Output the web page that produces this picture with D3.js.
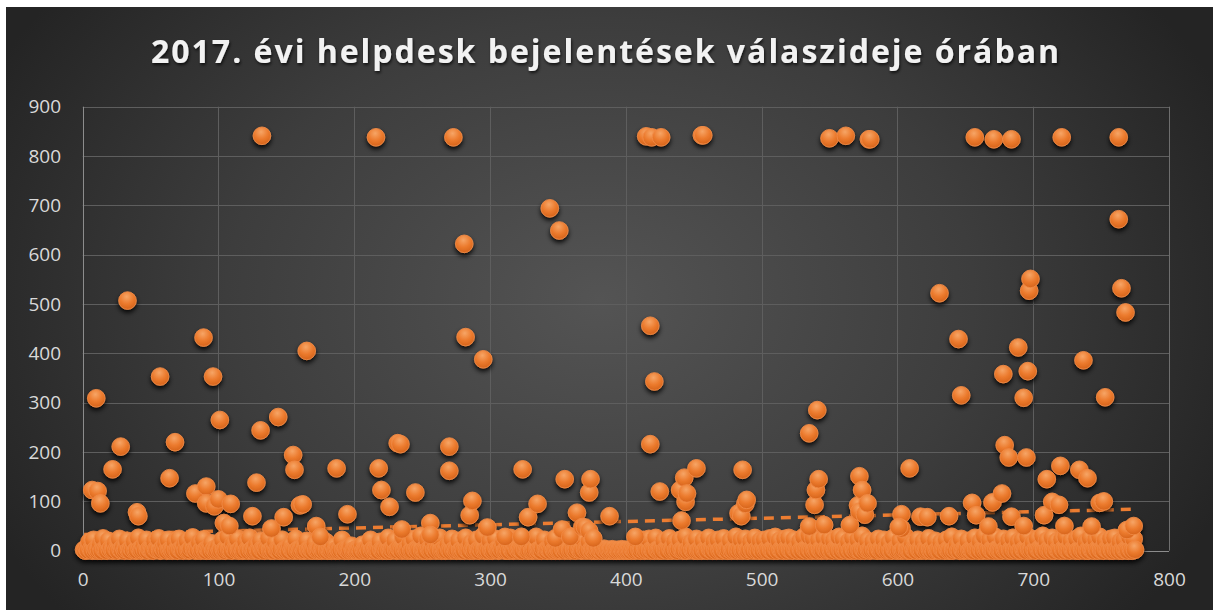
<!DOCTYPE html>
<html>
<head>
<meta charset="utf-8">
<script src="https://cdn.jsdelivr.net/npm/d3@7"></script>
<style>
  html, body { margin: 0; padding: 0; background: #ffffff; }
  svg { display: block; }
</style>
</head>
<body>
<svg id="chart" width="1213" height="610"></svg>
<script>
// ---------------- DATA ----------------
const titleText = "2017. évi helpdesk bejelentések válaszideje órában";
const xTicks = [0, 100, 200, 300, 400, 500, 600, 700, 800];
const yTicks = [0, 100, 200, 300, 400, 500, 600, 700, 800, 900];

// response time (hours) of the bulk of tickets, ticket no. 1..775
const lowValues = [
  2,0,5,1,18,3,0,22,1,4,0,2,12,0,25,3,1,0,20,2,6,0,1,15,3,
  0,24,2,1,8,0,3,20,1,0,5,2,18,0,1,26,3,0,2,10,1,22,0,4,2,
  1,0,19,3,2,25,0,1,6,2,14,0,22,1,3,0,2,18,1,0,24,3,2,0,12,
  2,20,0,1,5,27,2,0,3,1,16,0,2,23,1,0,4,2,0,15,1,3,0,2,8,
  0,2,22,1,0,3,28,1,2,0,14,3,1,24,0,2,5,0,1,18,2,0,26,1,3,
  0,2,12,1,0,20,3,1,0,5,2,25,0,1,3,0,16,2,1,0,4,22,0,2,1,
  3,0,10,2,1,0,24,1,3,0,2,6,0,1,20,2,0,3,1,0,14,2,0,1,5,
  0,2,1,18,0,3,1,0,2,8,0,1,3,0,2,22,1,0,4,1,0,2,10,0,1,
  2,0,1,3,0,12,1,0,2,5,0,22,1,3,0,2,1,0,18,2,0,1,4,0,26,
  1,0,3,2,20,0,1,5,2,0,28,1,3,0,2,14,0,1,24,2,0,3,1,30,0,
  2,1,0,22,3,0,1,18,2,0,5,1,26,0,2,3,0,1,12,2,0,24,1,3,0,
  2,20,0,1,3,0,26,2,1,0,15,3,0,2,22,1,0,4,2,30,0,1,3,0,20,
  1,0,2,24,3,0,1,5,2,18,0,1,3,0,26,2,0,1,10,3,0,2,1,0,22,
  3,1,0,2,16,0,1,3,28,0,2,1,0,5,22,1,0,3,2,0,18,1,0,2,4,
  0,1,24,2,0,3,1,30,0,2,20,1,0,3,26,2,0,1,22,3,0,2,18,1,0,
  2,0,1,3,0,2,1,0,4,1,0,2,0,1,3,0,1,0,2,0,1,3,0,1,2,
  0,1,2,0,3,1,0,2,18,1,0,3,22,0,2,1,24,0,3,1,0,26,2,0,1,
  3,0,20,2,1,0,25,3,0,2,18,1,0,4,22,2,0,1,28,0,3,1,16,2,0,
  1,24,0,2,3,0,20,1,2,0,26,3,1,0,18,2,0,22,1,3,0,25,2,1,0,
  3,20,0,2,1,28,0,3,1,22,0,2,24,1,0,3,18,2,0,26,1,3,0,20,2,
  0,22,1,3,0,25,2,1,0,28,3,0,20,2,1,0,24,3,0,26,2,1,0,22,3,
  1,0,18,2,0,28,3,1,0,30,2,0,25,1,3,0,22,2,0,1,26,3,0,2,24,
  1,0,20,3,2,0,28,1,0,24,2,3,0,18,1,0,26,2,0,3,22,1,0,30,2,
  0,3,20,1,0,2,18,1,3,0,24,2,0,1,22,3,0,2,16,1,0,26,3,1,0,
  2,20,0,1,3,28,0,2,1,0,14,3,1,0,22,2,0,1,18,3,0,2,25,1,0,
  3,0,20,1,2,0,16,3,1,0,22,2,0,1,28,0,3,2,12,1,0,24,2,0,1,
  3,20,0,2,1,0,26,3,1,0,18,2,0,30,1,3,0,22,2,1,0,28,3,0,2,
  1,0,24,2,3,0,20,1,0,26,2,3,0,18,1,0,22,2,1,0,28,3,0,2,16,
  1,0,24,3,2,0,30,1,0,20,2,3,0,26,1,0,18,2,1,0,22,3,0,28,2,
  1,0,20,3,2,0,24,1,0,30,2,3,0,18,1,0,26,2,1,0,22,3,0,28,2,
  1,0,20,3,2,0,24,1,0,26,2,3,0,18,1,0,22,2,1,0,28,3,0,24,2
];

// tickets with longer response time: [ticket no., hours]
const highPoints = [
  [7,123],[11,121],[13,96],[10,309],[22,165],[28,211],[33,507],[40,78],[41,70],[57,353],
  [64,147],[68,220],[83,116],[89,432],[91,130],[91,96],[97,90],[96,353],[100,104],[101,265],
  [104,56],[108,50],[109,95],
  [125,70],[128,138],[131,244],[132,841],[139,45],[144,271],[148,68],[155,194],[156,164],
  [160,92],[162,94],[165,405],[172,50],[175,28],[187,167],[195,74],
  [216,838],[218,167],[220,123],[226,89],[232,218],[234,216],[235,43],[245,118],[256,56],
  [256,32],[270,211],[270,162],[273,838],[281,622],[282,433],[285,72],[287,101],[295,388],[298,47],
  [311,28],[323,28],[324,165],[328,68],[335,95],[344,694],[348,25],[351,649],[353,43],[355,145],
  [359,28],[364,77],[368,48],[370,47],[373,40],[373,118],[374,145],[376,25],[388,70],
  [407,28],[415,840],[418,456],[418,216],[419,838],[421,343],[426,838],[425,120],[441,61],
  [440,123],[443,148],[444,99],[445,116],[452,167],[456,842],[457,842],[483,76],[485,70],
  [486,164],[488,95],[489,103],
  [535,238],[535,49],[539,93],[540,123],[541,285],[542,145],[546,52],[550,836],[562,841],
  [565,52],[571,92],[572,151],[572,79],[574,123],[576,73],[578,96],[579,834],[580,834],
  [603,74],[603,45],[601,48],
  [609,167],[617,69],[622,68],[631,522],[638,70],[645,429],[647,315],[655,97],[657,838],
  [658,72],[667,49],[670,98],[671,834],[677,116],[678,358],[679,214],[682,189],[684,834],
  [684,69],[689,412],[693,310],[693,50],[695,189],[696,364],[697,527],[698,551],
  [708,72],[710,145],[714,99],[719,93],[720,172],[721,838],[723,50],[734,164],[737,386],
  [740,147],[743,49],[749,97],[752,100],[753,311],[763,838],[763,672],[765,532],[768,483],
  [769,42],[774,50]
];

// linear trendline end points: [ticket no., hours]
const trendline = [[1, 33], [775, 84]];

// ---------------- CHART ----------------
const W = 1213, H = 610;
const svg = d3.select("#chart");
const defs = svg.append("defs");

const bg = defs.append("radialGradient").attr("id", "bg")
  .attr("gradientUnits", "userSpaceOnUse")
  .attr("cx", 600).attr("cy", 300).attr("r", 680)
  .attr("gradientTransform", "translate(600,300) scale(1,0.75) translate(-600,-300)");
bg.append("stop").attr("offset", "0%").attr("stop-color", "#545454");
bg.append("stop").attr("offset", "55%").attr("stop-color", "#3d3d3d");
bg.append("stop").attr("offset", "100%").attr("stop-color", "#242424");

const mg = defs.append("radialGradient").attr("id", "marker")
  .attr("cx", "45%").attr("cy", "28%").attr("r", "72%");
mg.append("stop").attr("offset", "0%").attr("stop-color", "#f6a566");
mg.append("stop").attr("offset", "55%").attr("stop-color", "#ec7b2e");
mg.append("stop").attr("offset", "100%").attr("stop-color", "#d6641b");

const shadow = defs.append("filter").attr("id", "shadow")
  .attr("x", "-5%").attr("y", "-5%").attr("width", "110%").attr("height", "115%");
shadow.append("feDropShadow").attr("dx", 0).attr("dy", 3).attr("stdDeviation", 2.4)
  .attr("flood-color", "#000").attr("flood-opacity", 0.9);

const tshadow = defs.append("filter").attr("id", "tshadow")
  .attr("x", "-5%").attr("y", "-30%").attr("width", "110%").attr("height", "160%");
tshadow.append("feDropShadow").attr("dx", 1).attr("dy", 2).attr("stdDeviation", 1.5)
  .attr("flood-color", "#000").attr("flood-opacity", 0.7);

svg.append("rect").attr("x", 6).attr("y", 7).attr("width", W - 6).attr("height", H - 7)
  .attr("fill", "url(#bg)");

const x = d3.scaleLinear().domain([0, 800]).range([82.7, 1169]);
const y = d3.scaleLinear().domain([0, 900]).range([550.7, 106.7]);

// grid
const grid = svg.append("g");
grid.selectAll("line.h").data(yTicks.filter(d => d > 0)).join("line")
  .attr("x1", x(0)).attr("x2", x(800))
  .attr("y1", d => Math.round(y(d)) + 0.5).attr("y2", d => Math.round(y(d)) + 0.5)
  .attr("stroke", "#5e5e5e").attr("stroke-width", 1);
grid.selectAll("line.v").data(xTicks.filter(d => d > 0 && d < 800)).join("line")
  .attr("y1", y(0)).attr("y2", y(900))
  .attr("x1", d => Math.round(x(d)) + 0.5).attr("x2", d => Math.round(x(d)) + 0.5)
  .attr("stroke", "#5e5e5e").attr("stroke-width", 1);
// axes lines
svg.append("line").attr("x1", x(800) + 0.5).attr("x2", x(800) + 0.5).attr("y1", y(0)).attr("y2", y(900))
  .attr("stroke", "#6e6e6e");
svg.append("line").attr("x1", x(0)).attr("x2", x(800)).attr("y1", Math.round(y(0)) + 0.5).attr("y2", Math.round(y(0)) + 0.5)
  .attr("stroke", "#8c8c8c");
svg.append("line").attr("x1", Math.round(x(0)) + 0.5).attr("x2", Math.round(x(0)) + 0.5).attr("y1", y(0)).attr("y2", y(900))
  .attr("stroke", "#8c8c8c");

// axes labels via d3 axes
const xAxis = d3.axisBottom(x).tickValues(xTicks).tickSize(0).tickPadding(0).tickFormat(d3.format("d"));
const yAxis = d3.axisLeft(y).tickValues(yTicks).tickSize(0).tickPadding(0).tickFormat(d3.format("d"));
const gx = svg.append("g").attr("transform", "translate(0,572)").call(xAxis);
const gy = svg.append("g").attr("transform", "translate(61,0)").call(yAxis);
[gx, gy].forEach(g => {
  g.select(".domain").remove();
  g.selectAll("text").attr("fill", "#d9d9d9")
    .style("font-family", "'Open Sans', 'Noto Sans', sans-serif").style("font-size", "19px");
});
gx.selectAll("text").attr("dy", "0.71em");

// trendline (dashed)
svg.append("path")
  .datum(trendline)
  .attr("d", d3.line().x(d => x(d[0])).y(d => y(d[1])))
  .attr("fill", "none").attr("stroke", "#ED7D31").attr("stroke-width", 3.5)
  .attr("stroke-dasharray", "10,7").attr("stroke-linecap", "butt");

// markers
const pts = lowValues.map((v, i) => [i + 1, v]).concat(highPoints);
const gm = svg.append("g").attr("filter", "url(#shadow)");
gm.selectAll("circle").data(pts).join("circle")
  .attr("cx", d => x(d[0])).attr("cy", d => y(d[1])).attr("r", 8.8)
  .attr("fill", "url(#marker)").attr("stroke", "#f08a45").attr("stroke-width", 0.9);

// title
svg.append("text")
  .attr("x", 606).attr("y", 63).attr("text-anchor", "middle")
  .attr("textLength", 910).attr("lengthAdjust", "spacingAndGlyphs")
  .attr("fill", "#f2f2f2").attr("filter", "url(#tshadow)")
  .style("font-family", "'Open Sans', 'Noto Sans', sans-serif")
  .style("font-weight", "bold").style("font-size", "33px").style("letter-spacing", "2px")
  .text(titleText);
</script>
</body>
</html>
